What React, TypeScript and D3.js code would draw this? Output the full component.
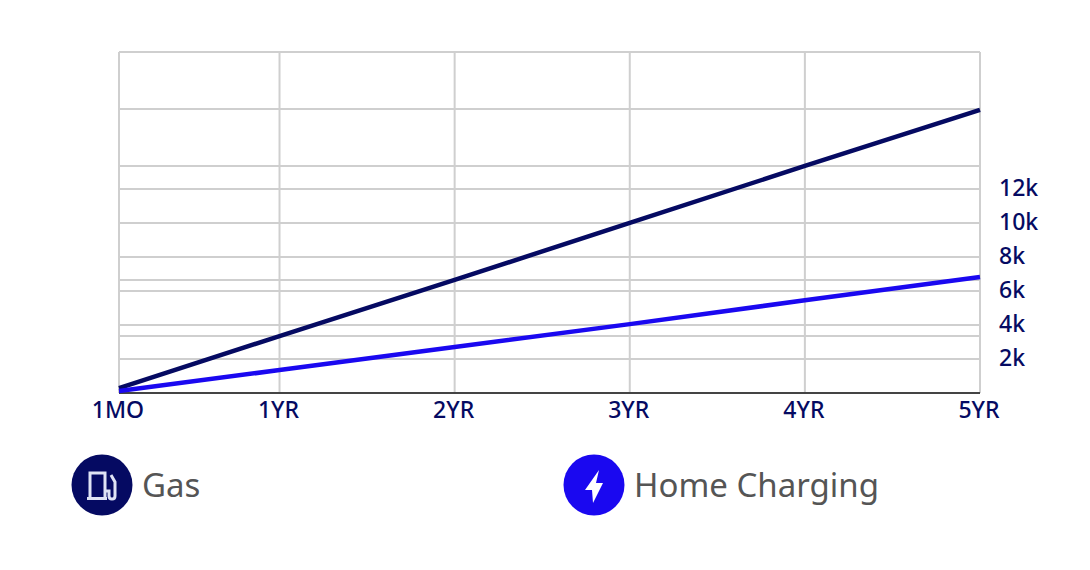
import React from "react";
import * as d3 from "d3";

const months = [1, 12, 24, 36, 48, 60];
const xLabels = ["1MO", "1YR", "2YR", "3YR", "4YR", "5YR"];
const gasCost = [290, 3350, 6650, 10000, 13350, 16650];
const homeCost = [120, 1350, 2700, 4050, 5450, 6820];
const yLabelValues = [2000, 4000, 6000, 8000, 10000, 12000];
const gasGridValues = [3350, 6650, 13350, 16700, 20050];

const NAVY = "#050a62";
const BLUE = "#1a08f0";
const GRID = "#cfcfcf";

const x = d3.scaleLinear().domain([1, 60]).range([119, 980]);
const y = d3.scaleLinear().domain([0, 20050]).range([393, 52]);

const line = d3
  .line<number>()
  .x((_, i) => x(months[i]))
  .y((d) => y(d));

const font = "'Noto Sans', sans-serif";

const App: React.FC = () => {
  const gridValues = [...yLabelValues, ...gasGridValues];
  return (
    <svg
      width={1090}
      height={570}
      style={{ position: "absolute", left: 0, top: 0, background: "#fff" }}
    >
      {/* grid */}
      {gridValues.map((v) => (
        <line key={v} x1={119} x2={980} y1={y(v)} y2={y(v)} stroke={GRID} strokeWidth={2} />
      ))}
      {months.map((m) => (
        <line key={m} x1={x(m)} x2={x(m)} y1={52} y2={393} stroke={GRID} strokeWidth={2} />
      ))}
      <line x1={119} x2={980} y1={393} y2={393} stroke="#444" strokeWidth={2} />

      {/* series */}
      <path d={line(gasCost) ?? ""} fill="none" stroke={NAVY} strokeWidth={4.5} />
      <path d={line(homeCost) ?? ""} fill="none" stroke={BLUE} strokeWidth={4.5} />

      {/* axis labels */}
      {months.map((m, i) => (
        <text key={m} x={x(m) - 1} y={418} textAnchor="middle" fontFamily={font} fontSize={23} fontWeight={500} fill={NAVY}>
          {xLabels[i]}
        </text>
      ))}
      {yLabelValues.map((v) => (
        <text key={v} x={999} y={y(v) + 7} fontFamily={font} fontSize={23} fontWeight={500} fill={NAVY}>
          {v / 1000}k
        </text>
      ))}

      {/* legend */}
      <g transform="translate(102,485)">
        <circle r={30.5} fill={NAVY} />
        <path d="M-12,13 L-12,-12 L3,-12 L3,13 M-15,13.5 L5,13.5" fill="none" stroke="#dfe3f5" strokeWidth={3} />
        <path
          d="M3,6 L7,6 L7,11 Q7,14 10,14 Q13,14 13,11 L13,-3 L9,-10"
          fill="none"
          stroke="#dfe3f5"
          strokeWidth={3}
        />
      </g>
      <text x={142} y={497} fontFamily={font} fontSize={33} fill="#555">
        Gas
      </text>
      <g transform="translate(594,485)">
        <circle r={30.5} fill={BLUE} />
        <path d="M5,-15 L-9,5 L-2,5 L-1,18 L9,-2 L2,-2 Z" fill="#fff" />
      </g>
      <text x={634} y={497} fontFamily={font} fontSize={33} fill="#555">
        Home Charging
      </text>
    </svg>
  );
};

export default App;
